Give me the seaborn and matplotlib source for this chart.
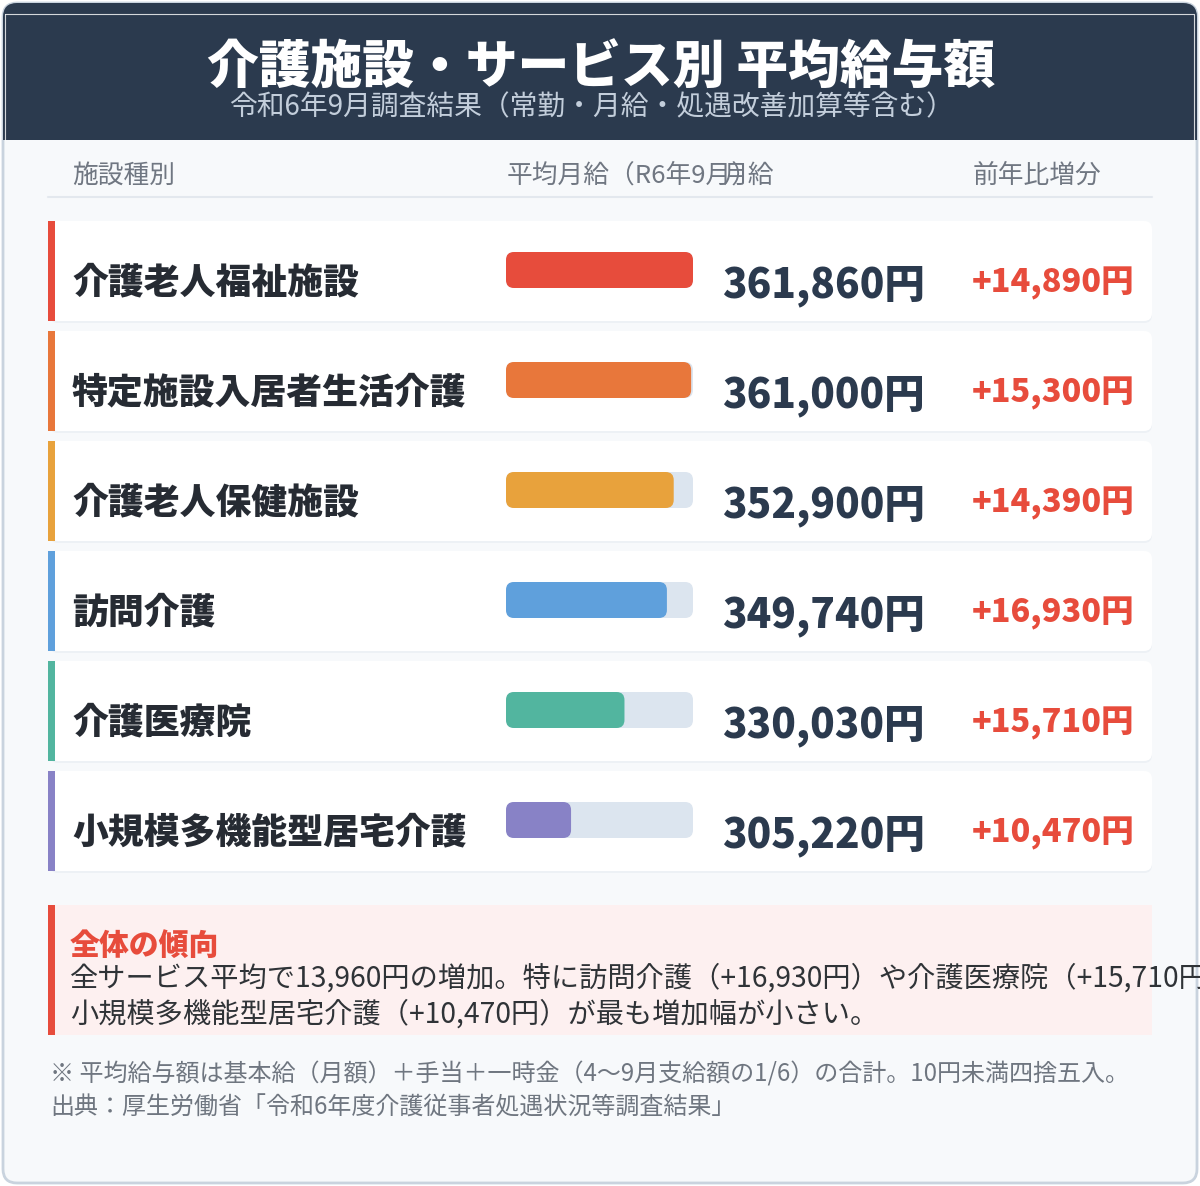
import numpy as np
import pandas as pd
import matplotlib
matplotlib.use("Agg")
import matplotlib.pyplot as plt
import seaborn as sns
from matplotlib.patches import FancyBboxPatch, Rectangle

# data
facilities = ["介護老人福祉施設", "特定施設入居者生活介護", "介護老人保健施設",
              "訪問介護", "介護医療院", "小規模多機能型居宅介護"]
salary = [361860, 361000, 352900, 349740, 330030, 305220]
increase = [14890, 15300, 14390, 16930, 15710, 10470]
bar_colors = ["#e74c3c", "#e8773b", "#e8a23c", "#5fa0dc", "#52b59f", "#8882c6"]

title = "介護施設・サービス別 平均給与額"
subtitle = "令和6年9月調査結果（常勤・月給・処遇改善加算等含む）"
col_headers = ["施設種別", "平均月給（R6年9月）", "月給", "前年比増分"]
summary_title = "全体の傾向"
summary_lines = ["全サービス平均で13,960円の増加。特に訪問介護（+16,930円）や介護医療院（+15,710円）",
                 "小規模多機能型居宅介護（+10,470円）が最も増加幅が小さい。"]
notes = ["※ 平均給与額は基本給（月額）＋手当＋一時金（4〜9月支給額の1/6）の合計。10円未満四捨五入。",
         "出典：厚生労働省「令和6年度介護従事者処遇状況等調査結果」"]

sns.set_style("white")
plt.rcParams["font.family"] = ["Noto Sans CJK JP", "DejaVu Sans"]

W, H = 1200, 1186
fig = plt.figure(figsize=(12, 11.86), dpi=100)
fig.patch.set_facecolor("white")

bg = fig.add_axes([0, 0, 1, 1])
bg.set_xlim(0, W)
bg.set_ylim(H, 0)
bg.axis("off")


def px_axes(x, y, w, h):
    return fig.add_axes([x / W, 1 - (y + h) / H, w / W, h / H])


# outer card + header
card = FancyBboxPatch((3, 3), W - 6, H - 6, boxstyle="round,pad=0,rounding_size=14",
                      fc="#f7f9fb", ec="#c9d3de", lw=2, zorder=0)
bg.add_patch(card)
header = Rectangle((3, 3), W - 6, 137, fc="#2b3a4e", ec="none", zorder=1)
bg.add_patch(header)
header.set_clip_path(card)
bg.plot([5, 1194, 1194], [14, 14, 140], color="white", lw=0.8, alpha=0.8, zorder=2)
bg.plot([5, 5], [14, 140], color="white", lw=0.8, alpha=0.8, zorder=2)

bg.text(601, 69, title, ha="center", va="center", fontsize=37.3, fontweight="heavy",
        color="white", zorder=3)
bg.text(592, 107, subtitle, ha="center", va="center", fontsize=20,
        color="#c3cedb", zorder=3)

# column headers
hdr_x = [72, 507, 722, 973]
for x, t in zip(hdr_x, col_headers):
    bg.text(x, 176, t, ha="left", va="center", fontsize=18.5, color="#707782", zorder=3)
bg.plot([48, 1152], [197, 197], color="#e3e8ee", lw=1.5, zorder=2)

# row cards
row_top, pitch, card_h = 221, 110, 100
for i, (name, sal, inc, col) in enumerate(zip(facilities, salary, increase, bar_colors)):
    top = row_top + pitch * i
    bg.add_patch(FancyBboxPatch((50, top + 2), 1102, card_h, boxstyle="round,pad=0,rounding_size=8",
                                fc="#edf1f5", ec="none", zorder=1))
    bg.add_patch(FancyBboxPatch((50, top), 1102, card_h, boxstyle="round,pad=0,rounding_size=8",
                                fc="white", ec="none", zorder=1.5))
    bg.add_patch(Rectangle((48, top), 7, card_h, fc=col, ec="none", zorder=2))
    cy = top + card_h / 2 + 11
    bg.text(72, cy, name, ha="left", va="center", fontsize=25.8, fontweight="heavy",
            color="#262b33", zorder=3)
    bg.text(722, cy + 4, f"{sal:,}円", ha="left", va="center", fontsize=29.2,
            fontweight="heavy", color="#2b3a4e", zorder=3)
    bg.text(972, cy + 1, f"+{inc:,}円", ha="left", va="center", fontsize=23.4,
            fontweight="heavy", color="#e74c3c", zorder=3)

# bars via seaborn
df = pd.DataFrame({"facility": facilities, "salary": salary,
                   "track": [max(salary)] * len(salary)})
ax = px_axes(506, row_top - 6, 187, pitch * len(facilities))
ax.set_facecolor("none")
bar_w = 36 / pitch
sns.barplot(data=df, x="track", y="facility", color="#dce5ef", width=bar_w, ax=ax,
            saturation=1)
sns.barplot(data=df, x="salary", y="facility", hue="facility", palette=bar_colors,
            width=bar_w, legend=False, ax=ax, saturation=1)
x_min, x_max = 275000, max(salary)
ax.set_xlim(x_min, x_max)
ax.set_ylim(len(facilities) - 0.5, -0.5)
ax.axis("off")

x_per_px = (x_max - x_min) / 187
y_per_px = 1 / pitch
radius = 8 * x_per_px
for p in list(ax.patches):
    x0 = max(p.get_x(), x_min)
    x1 = p.get_x() + p.get_width()
    y0, h = p.get_y(), p.get_height()
    fc = p.get_facecolor()
    z = p.get_zorder()
    p.remove()
    ax.add_patch(FancyBboxPatch((x0, y0), x1 - x0, h,
                                boxstyle=f"round,pad=0,rounding_size={radius}",
                                mutation_aspect=y_per_px / x_per_px,
                                fc=fc, ec="none", zorder=z))

# summary box
bg.add_patch(Rectangle((48, 905), 1104, 130, fc="#fdf0f0", ec="none", zorder=1))
bg.add_patch(Rectangle((48, 905), 7, 130, fc="#e74c3c", ec="none", zorder=2))
bg.text(70, 945, summary_title, ha="left", va="center", fontsize=21.5, fontweight="heavy",
        color="#e74c3c", zorder=3)
for k, line in enumerate(summary_lines):
    bg.text(70, 979 + 36 * k, line, ha="left", va="center", fontsize=20.3,
            color="#2f3337", zorder=3)

# footnotes
for k, line in enumerate(notes):
    bg.text(50, 1074 + 33 * k, line, ha="left", va="center", fontsize=17.3,
            color="#6f7680", zorder=3)

fig.savefig("out.png", dpi=100)
